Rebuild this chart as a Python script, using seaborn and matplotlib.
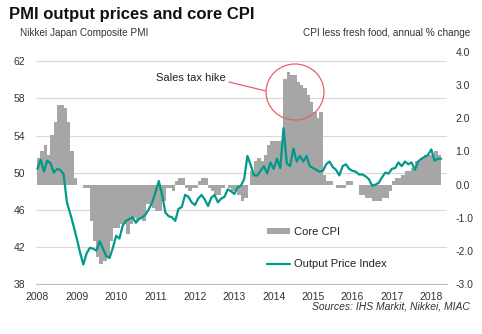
import matplotlib
matplotlib.use("Agg")
import matplotlib.pyplot as plt
import seaborn as sns
from matplotlib.patches import Ellipse, Patch
from matplotlib.lines import Line2D

sns.set_theme(style="white")
plt.rcParams['font.family'] = ['Liberation Sans', 'DejaVu Sans']

# ---------------- data ----------------
start_year = 2008
# Core CPI (less fresh food), annual % change, monthly Jan 2008 - Mar 2018 (right axis)
cpi = [
    0.8, 1.0, 1.2, 0.9, 1.5, 1.9, 2.4, 2.4, 2.3, 1.9, 1.0, 0.2,          # 2008
    0.0, 0.0, -0.1, -0.1, -1.1, -1.7, -2.2, -2.4, -2.3, -2.2, -1.7, -1.3, # 2009
    -1.3, -1.2, -1.2, -1.5, -1.2, -1.0, -1.1, -1.0, -1.1, -0.6, -0.6, -0.7, # 2010
    -0.8, -0.8, -0.5, -0.1, -0.1, -0.2, 0.1, 0.2, 0.2, -0.1, -0.2, -0.1,  # 2011
    -0.1, 0.1, 0.2, 0.2, -0.1, -0.2, -0.3, -0.3, -0.1, 0.0, -0.1, -0.2,   # 2012
    -0.2, -0.3, -0.5, -0.4, 0.0, 0.4, 0.7, 0.8, 0.7, 0.9, 1.2, 1.3,       # 2013
    1.3, 1.3, 1.3, 3.2, 3.4, 3.3, 3.3, 3.1, 3.0, 2.9, 2.7, 2.5,           # 2014
    2.2, 2.0, 2.2, 0.3, 0.1, 0.1, 0.0, -0.1, -0.1, -0.1, 0.1, 0.1,        # 2015
    0.0, 0.0, -0.3, -0.3, -0.4, -0.4, -0.5, -0.5, -0.5, -0.4, -0.4, -0.2, # 2016
    0.1, 0.2, 0.2, 0.3, 0.4, 0.4, 0.5, 0.7, 0.7, 0.8, 0.9, 0.9,           # 2017
    0.9, 1.0, 0.9,                                                        # 2018
]
# PMI Output Price Index, monthly Jan 2008 - Apr 2018 (left axis)
pmi = [
    50.4, 51.4, 50.1, 51.3, 51.0, 50.0, 50.4, 50.3, 49.8, 46.8, 45.6, 44.3,  # 2008
    42.9, 41.4, 40.1, 41.3, 41.9, 41.8, 41.6, 42.6, 41.8, 41.0, 40.8, 41.9,  # 2009
    43.2, 42.9, 44.3, 44.8, 45.0, 45.2, 44.6, 45.0, 45.2, 45.5, 46.1, 46.8,  # 2010
    47.9, 49.1, 47.6, 45.7, 45.3, 45.2, 44.8, 46.1, 46.3, 47.6, 47.4, 46.8,  # 2011
    46.5, 47.2, 47.6, 47.1, 46.4, 47.3, 47.6, 46.8, 47.2, 47.4, 48.2, 48.0,  # 2012
    47.7, 48.4, 48.6, 49.3, 51.8, 50.8, 49.7, 49.7, 50.2, 50.7, 49.9, 51.1,  # 2013
    50.4, 51.5, 50.5, 54.8, 51.0, 50.7, 52.6, 51.2, 51.8, 51.2, 51.8, 50.7,  # 2014
    50.5, 50.3, 50.1, 50.2, 50.9, 51.2, 50.6, 50.3, 49.7, 50.7, 50.9, 50.4,  # 2015
    50.2, 50.1, 49.8, 49.8, 49.6, 49.3, 48.6, 48.7, 48.9, 49.5, 50.0, 49.9,  # 2016
    50.4, 50.5, 51.1, 50.7, 51.2, 50.9, 51.1, 50.3, 51.2, 51.5, 51.7, 51.9,  # 2017
    52.5, 51.3, 51.5, 51.5,                                                  # 2018
]
year_ticks = list(range(2008, 2019))
left_ticks = [38, 42, 46, 50, 54, 58, 62]
right_ticks = [-3.0, -2.0, -1.0, 0.0, 1.0, 2.0, 3.0, 4.0]

title = "PMI output prices and core CPI"
left_sub = "Nikkei Japan Composite PMI"
right_sub = "CPI less fresh food, annual % change"
source = "Sources: IHS Markit, Nikkei, MIAC"
note = "Sales tax hike"
labels = ["Core CPI", "Output Price Index"]

bar_color = "#a6a6a6"
line_color = "#00998a"
text_color = "#333333"

cpi_x = [start_year + (i + 0.5) / 12 for i in range(len(cpi))]
pmi_x = [start_year + i / 12 for i in range(len(pmi))]

# ---------------- figure ----------------
W, H = 482, 334
fig = plt.figure(figsize=(W / 100, H / 100), dpi=100)
ax = fig.add_axes([36 / W, 1 - 284 / H, 411 / W, 232 / H])
ax2 = ax.twinx()
ax3 = ax.twinx()

sns.barplot(x=cpi_x, y=cpi, native_scale=True, width=1.15, color=bar_color,
            saturation=1, linewidth=0, errorbar=None, ax=ax2)
sns.lineplot(x=pmi_x, y=pmi, color=line_color, linewidth=1.6, estimator=None, ax=ax3)

ax.set_xlim(2007.965, 2018.4)
ax.set_ylim(38, 63)
ax3.set_ylim(38, 63)
ax2.set_ylim(-3, 4)

# left axis
ax.set_yticks(left_ticks)
ax.set_yticklabels([str(v) for v in left_ticks])
ax.yaxis.grid(True, color="#d9d9d9", linewidth=0.8)
ax.xaxis.grid(False)
ax.tick_params(axis="y", length=0, labelsize=7.5, labelcolor=text_color, pad=8)
ax.set_xticks(year_ticks)
ax.set_xticklabels([str(y) for y in year_ticks])
ax.tick_params(axis="x", length=3, direction="inout", color="#bfbfbf", width=0.8,
               labelsize=7.5, labelcolor=text_color, pad=4)
for s in ["top", "left", "right"]:
    ax.spines[s].set_visible(False)
ax.spines["bottom"].set_color("#bfbfbf")
ax.spines["bottom"].set_linewidth(0.8)

# right axis
ax2.set_yticks(right_ticks)
ax2.set_yticklabels([f"{v:.1f}" for v in right_ticks])
ax2.tick_params(axis="y", length=0, labelsize=7.5, labelcolor=text_color, pad=6)
ax2.grid(False)
for s in ax2.spines.values():
    s.set_visible(False)
ax2.set_ylabel("")
ax2.set_xlabel("")

ax3.set_yticks([])
ax3.grid(False)
for s in ax3.spines.values():
    s.set_visible(False)
ax3.set_ylabel("")
ax3.set_xlabel("")
ax.set_xlim(2007.965, 2018.4)

# texts
fig.text(9 / W, 1 - 18.5 / H, title, fontsize=12, fontweight="bold", color="#111111",
         ha="left", va="baseline")
fig.text(20.5 / W, 1 - 35.5 / H, left_sub, fontsize=7.2, color=text_color, ha="left", va="baseline")
fig.text(470 / W, 1 - 35.5 / H, right_sub, fontsize=7.2, color=text_color, ha="right", va="baseline")
fig.text(470 / W, 1 - 309.5 / H, source, fontsize=7.5, style="italic", color=text_color,
         ha="right", va="baseline")
fig.text(156 / W, 1 - 78.5 / H, note, fontsize=8, color="#222222", ha="left", va="center")

# annotation circle and pointer
red = "#e8606a"
fig.add_artist(Ellipse((295 / W, 1 - 92 / H), 58 / W, 56 / H, transform=fig.transFigure,
                       fill=False, edgecolor=red, linewidth=0.9))
fig.add_artist(Line2D([229 / W, 266 / W], [1 - 82 / H, 1 - 91 / H], transform=fig.transFigure,
                      color=red, linewidth=0.9))

# legend
handles = [Patch(facecolor=bar_color, edgecolor="none"),
           Line2D([], [], color=line_color, linewidth=1.6)]
fig.legend(handles, labels, loc="upper left", bbox_to_anchor=(267 / W, 1 - 227 / H),
           frameon=False, fontsize=8, handlelength=2.1, handleheight=0.5,
           handletextpad=0.35, labelspacing=2.0, borderpad=0, borderaxespad=0,
           labelcolor="#222222")

fig.savefig("out.png", dpi=100)
